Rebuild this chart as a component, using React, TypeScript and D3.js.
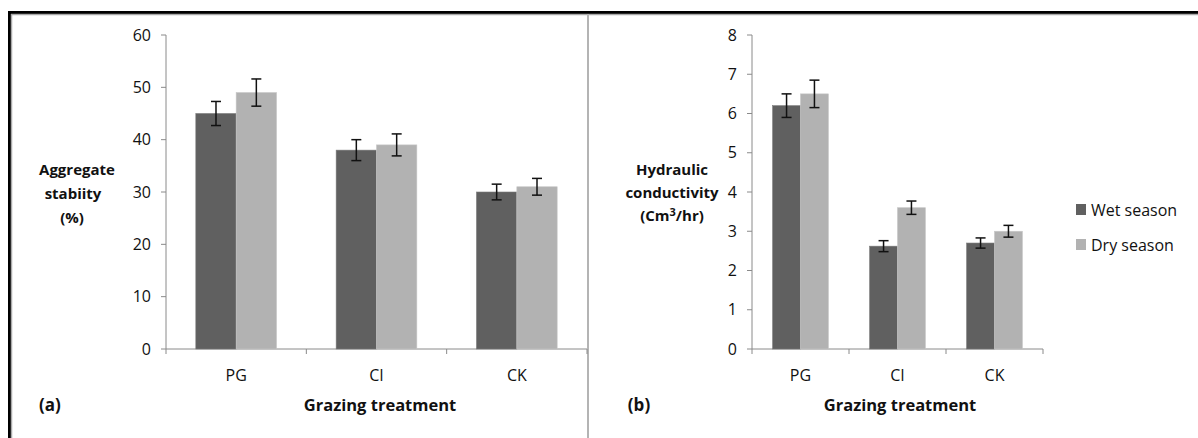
import React from "react";
import { scaleBand, scaleLinear } from "d3";

const categories = ["PG", "CI", "CK"];
const seriesNames = ["Wet season", "Dry season"];
const seriesColors = ["#606060", "#b2b2b2"];

// panel (a) aggregate stability, %
const stabWet = [45, 38, 30];
const stabDry = [49, 39, 31];
const stabWetErr = [2.3, 2.0, 1.5];
const stabDryErr = [2.6, 2.1, 1.6];
const stabTicks = [0, 10, 20, 30, 40, 50, 60];

// panel (b) hydraulic conductivity
const hydWet = [6.2, 2.62, 2.7];
const hydDry = [6.5, 3.6, 3.0];
const hydWetErr = [0.3, 0.14, 0.13];
const hydDryErr = [0.35, 0.17, 0.15];
const hydTicks = [0, 1, 2, 3, 4, 5, 6, 7, 8];

const font = "'Open Sans', sans-serif";
const textColor = "#111";
const axisColor = "#8a8a8a";

type PanelProps = {
  x0: number;
  x1: number;
  yMax: number;
  ticks: number[];
  values: number[][];
  errors: number[][];
};

const Panel = ({ x0, x1, yMax, ticks, values, errors }: PanelProps) => {
  const y = scaleLinear().domain([0, yMax]).range([349, 35]);
  const x = scaleBand<string>().domain(categories).range([x0, x1]);
  const groupW = x.bandwidth() * 0.575;
  const sub = scaleBand<string>().domain(seriesNames).range([0, groupW]);

  return (
    <g>
      {/* y axis */}
      <line x1={x0} x2={x0} y1={y(yMax)} y2={y(0)} stroke={axisColor} />
      {ticks.map((t) => (
        <g key={t}>
          <line x1={x0 - 5} x2={x0} y1={y(t)} y2={y(t)} stroke={axisColor} />
          <text
            x={x0 - 15}
            y={y(t)}
            dy="0.35em"
            textAnchor="end"
            fontSize={16}
            fill={textColor}
          >
            {t}
          </text>
        </g>
      ))}
      {/* x axis */}
      <line x1={x0} x2={x1} y1={y(0)} y2={y(0)} stroke={axisColor} />
      {[...categories.map((c) => x(c)!), x1].map((px, i) => (
        <line key={i} x1={px} x2={px} y1={y(0)} y2={y(0) + 5} stroke={axisColor} />
      ))}
      {categories.map((c) => (
        <text
          key={c}
          x={x(c)! + x.bandwidth() / 2}
          y={375}
          dy="0.35em"
          textAnchor="middle"
          fontSize={16}
          fill={textColor}
        >
          {c}
        </text>
      ))}
      {/* bars */}
      {categories.map((c, ci) =>
        seriesNames.map((s, si) => {
          const bx = x(c)! + (x.bandwidth() - groupW) / 2 + sub(s)!;
          const v = values[si][ci];
          const e = errors[si][ci];
          const cx = bx + sub.bandwidth() / 2;
          return (
            <g key={c + s}>
              <rect
                x={bx}
                y={y(v)}
                width={sub.bandwidth()}
                height={y(0) - y(v)}
                fill={seriesColors[si]}
                stroke={si === 0 ? "#7a7a7a" : "#c6c6c6"}
                strokeWidth={0.6}
              />
              <line x1={cx} x2={cx} y1={y(v + e)} y2={y(v - e)} stroke="#111" strokeWidth={1.5} />
              <line x1={cx - 5} x2={cx + 5} y1={y(v + e)} y2={y(v + e)} stroke="#111" strokeWidth={1.5} />
              <line x1={cx - 5} x2={cx + 5} y1={y(v - e)} y2={y(v - e)} stroke="#111" strokeWidth={1.5} />
            </g>
          );
        })
      )}
    </g>
  );
};

const App = () => {
  return (
    <div>
      <style>{"body{margin:0}"}</style>
      <svg width={1198} height={438} style={{ display: "block", fontFamily: font }}>
        <rect width={1198} height={438} fill="#fff" />
        {/* frame */}
        <line x1={9} x2={1198} y1={12.5} y2={12.5} stroke="#000" strokeWidth={3} />
        <line x1={9} x2={1198} y1={14.5} y2={14.5} stroke="#aaa" strokeWidth={1.5} />
        <line x1={9.5} x2={9.5} y1={11} y2={438} stroke="#000" strokeWidth={3} />
        <line x1={11.5} x2={11.5} y1={14} y2={438} stroke="#aaa" strokeWidth={1.5} />
        <line x1={588} x2={588} y1={14} y2={438} stroke="#b4b4b4" strokeWidth={2} />

        <Panel
          x0={166}
          x1={587}
          yMax={60}
          ticks={stabTicks}
          values={[stabWet, stabDry]}
          errors={[stabWetErr, stabDryErr]}
        />
        <Panel
          x0={752}
          x1={1043}
          yMax={8}
          ticks={hydTicks}
          values={[hydWet, hydDry]}
          errors={[hydWetErr, hydDryErr]}
        />

        {/* titles */}
        <g fontWeight="bold" fontSize={15} fill={textColor} textAnchor="middle">
          <text x={77} y={170} dy="0.35em">Aggregate</text>
          <text x={73} y={194} dy="0.35em">stabiity</text>
          <text x={72} y={218} dy="0.35em">(%)</text>
          <text x={380} y={405} dy="0.35em" fontSize={16.5}>Grazing treatment</text>
          <text x={50} y={405} dy="0.35em" fontSize={17}>(a)</text>

          <text x={672} y={170} dy="0.35em">Hydraulic</text>
          <text x={672} y={193} dy="0.35em">conductivity</text>
          <text x={672} y={216} dy="0.35em">
            (Cm<tspan dy="-5" fontSize={11}>3</tspan>
            <tspan dy="5">/hr)</tspan>
          </text>
          <text x={900} y={405} dy="0.35em" fontSize={16.5}>Grazing treatment</text>
          <text x={639} y={405} dy="0.35em" fontSize={17}>(b)</text>
        </g>

        {/* legend */}
        {seriesNames.map((s, i) => (
          <g key={s}>
            <rect x={1076} y={204 + i * 35} width={10} height={11} fill={seriesColors[i]} />
            <text x={1091} y={210 + i * 35} dy="0.35em" fontSize={16} fill={textColor}>
              {s}
            </text>
          </g>
        ))}
      </svg>
    </div>
  );
};

export default App;
